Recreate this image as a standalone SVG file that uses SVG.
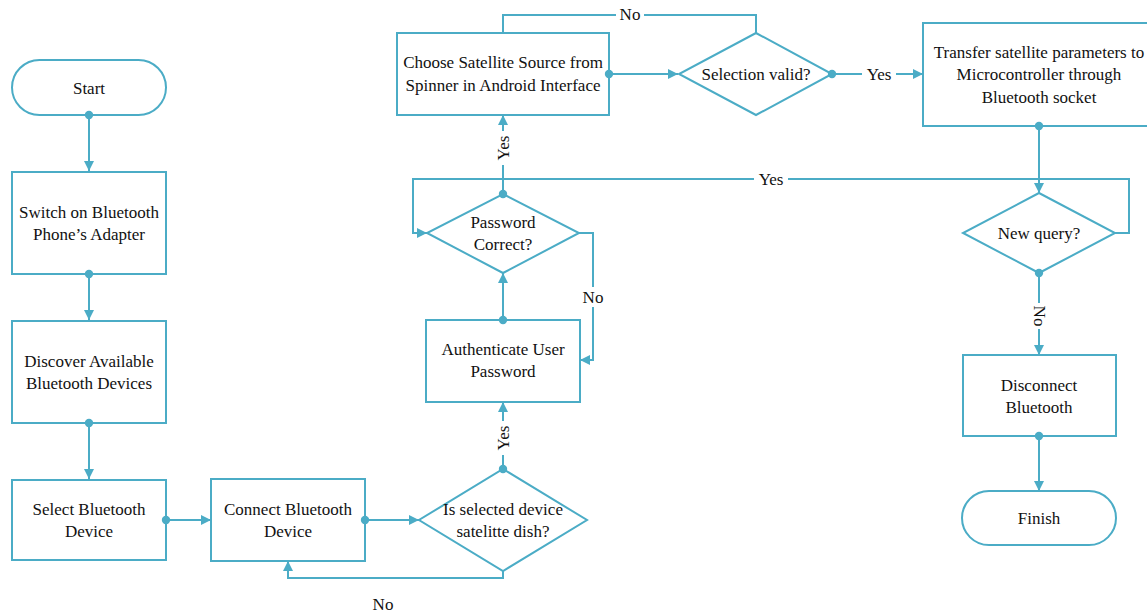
<svg xmlns="http://www.w3.org/2000/svg" width="1147" height="612" viewBox="0 0 1147 612">
<defs>
<marker id="arr" viewBox="0 0 10 10" refX="10" refY="5" markerWidth="10" markerHeight="10" markerUnits="userSpaceOnUse" orient="auto">
<path d="M0,0 L10,5 L0,10 z" fill="#4bacc6"/>
</marker>
<marker id="dot" viewBox="0 0 10 10" refX="5" refY="5" markerWidth="10" markerHeight="10" markerUnits="userSpaceOnUse">
<circle cx="5" cy="5" r="4.2" fill="#4bacc6"/>
</marker>
</defs>
<style>
.s{fill:#fff;stroke:#4bacc6;stroke-width:2}
.c{fill:none;stroke:#4bacc6;stroke-width:2}
text{font-size:17px;fill:#111;text-anchor:middle;dominant-baseline:central}
.lb{fill:#fff;stroke:none}
</style>
<rect width="1147" height="612" fill="#fff"/>
<g font-family="Liberation Serif, serif">
<g id="start"><rect class="s" x="12" y="60" width="154" height="55" rx="27.5"/><text x="89" y="88">Start</text></g>
<g id="switch"><rect class="s" x="12" y="172" width="154" height="102"/><text x="89" y="212">Switch on Bluetooth</text><text x="89" y="234">Phone’s Adapter</text></g>
<g id="discover"><rect class="s" x="12" y="321" width="154" height="102"/><text x="89" y="361">Discover Available</text><text x="89" y="383">Bluetooth Devices</text></g>
<g id="select"><rect class="s" x="12" y="480" width="154" height="80"/><text x="89" y="509">Select Bluetooth</text><text x="89" y="531">Device</text></g>
<g id="connect"><rect class="s" x="211" y="479" width="154" height="82"/><text x="288" y="509">Connect Bluetooth</text><text x="288" y="531">Device</text></g>
<g id="isdish"><polygon class="s" points="503,469 587,520 503,571 419,520"/><text x="503" y="509">Is selected device</text><text x="503" y="531">satelitte dish?</text></g>
<g id="auth"><rect class="s" x="426" y="320" width="154" height="82"/><text x="503" y="349">Authenticate User</text><text x="503" y="371">Password</text></g>
<g id="pwd"><polygon class="s" points="503,194 579,233 503,273 427,233"/><text x="503" y="222">Password</text><text x="503" y="244">Correct?</text></g>
<g id="choose"><rect class="s" x="397" y="33" width="212" height="82"/><text x="503" y="62">Choose Satellite Source from</text><text x="503" y="85">Spinner in Android Interface</text></g>
<g id="valid"><polygon class="s" points="756,33 832,74 756,115 679,74"/><text x="756" y="74">Selection valid?</text></g>
<g id="transfer"><rect class="s" x="923" y="23" width="232" height="103"/><text x="1039" y="52">Transfer satellite parameters to</text><text x="1039" y="74">Microcontroller through</text><text x="1039" y="97">Bluetooth socket</text></g>
<g id="newq"><polygon class="s" points="1039,193 1115,233 1039,273 963,233"/><text x="1039" y="233">New query?</text></g>
<g id="disconnect"><rect class="s" x="963" y="355" width="153" height="81"/><text x="1039" y="385">Disconnect</text><text x="1039" y="407">Bluetooth</text></g>
<g id="finish"><rect class="s" x="962" y="491" width="154" height="54" rx="27"/><text x="1039" y="518">Finish</text></g>
<g id="connectors">
<path class="c" d="M89,115 V171" marker-start="url(#dot)" marker-end="url(#arr)"/>
<path class="c" d="M89,274 V320" marker-start="url(#dot)" marker-end="url(#arr)"/>
<path class="c" d="M89,423 V479" marker-start="url(#dot)" marker-end="url(#arr)"/>
<path class="c" d="M166,520 H211" marker-start="url(#dot)" marker-end="url(#arr)"/>
<path class="c" d="M365,520 H419" marker-start="url(#dot)" marker-end="url(#arr)"/>
<path class="c" d="M503,571 V578 H288 V561" marker-end="url(#arr)"/>
<path class="c" d="M503,469 V402" marker-start="url(#dot)" marker-end="url(#arr)"/>
<path class="c" d="M503,320 V273" marker-start="url(#dot)" marker-end="url(#arr)"/>
<path class="c" d="M579,233 H593 V360 H580" marker-end="url(#arr)"/>
<path class="c" d="M503,194 V115" marker-start="url(#dot)" marker-end="url(#arr)"/>
<path class="c" d="M609,74 H678" marker-start="url(#dot)" marker-end="url(#arr)"/>
<path class="c" d="M756,33 V15 H503 V33"/>
<path class="c" d="M832,74 H923" marker-start="url(#dot)" marker-end="url(#arr)"/>
<path class="c" d="M1039,126 V193" marker-start="url(#dot)" marker-end="url(#arr)"/>
<path class="c" d="M1115,233 H1129 V179 H413 V233 H427" marker-end="url(#arr)"/>
<path class="c" d="M1039,273 V355" marker-start="url(#dot)" marker-end="url(#arr)"/>
<path class="c" d="M1039,436 V491" marker-start="url(#dot)" marker-end="url(#arr)"/>
<rect class="lb" x="616" y="6" width="28" height="18"/>
<text x="630" y="14">No</text>
<rect class="lb" x="862" y="65" width="34" height="18"/>
<text x="879" y="74">Yes</text>
<rect class="lb" x="754" y="170" width="34" height="18"/>
<text x="771" y="179">Yes</text>
<rect class="lb" x="580" y="287" width="26" height="20"/>
<text x="593" y="297">No</text>
<rect class="lb" x="494" y="131" width="18" height="34"/>
<text x="503" y="148" transform="rotate(-90 503 148)">Yes</text>
<rect class="lb" x="494" y="421" width="18" height="34"/>
<text x="503" y="438" transform="rotate(-90 503 438)">Yes</text>
<rect class="lb" x="1030" y="303" width="18" height="26"/>
<text x="1039" y="316" transform="rotate(90 1039 316)">No</text>
<text x="383" y="604">No</text>
</g>
</g>
</svg>
